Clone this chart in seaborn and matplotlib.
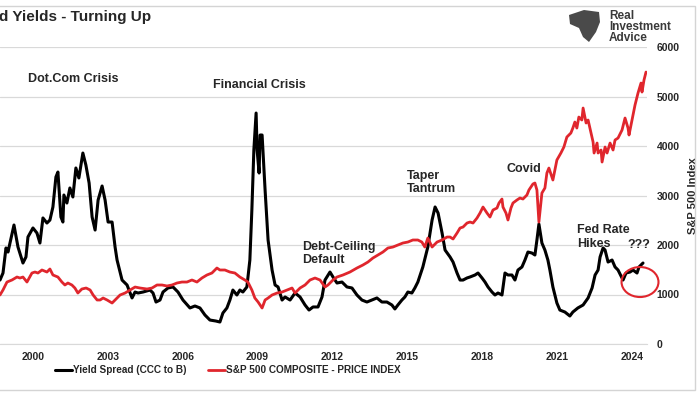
import numpy as np
import pandas as pd
import matplotlib
matplotlib.use('Agg')
import matplotlib.pyplot as plt
import seaborn as sns
from matplotlib.patches import Ellipse, Polygon, Rectangle

sns.set_style('white')
plt.rcParams['font.family'] = ['Liberation Sans', 'DejaVu Sans']

# Yield spread CCC minus B (percentage points)
spread_year = [1998.68, 1998.80, 1998.92, 1999.00, 1999.24, 1999.40, 1999.60, 1999.72, 1999.80, 2000.00,
               2000.16, 2000.28, 2000.40, 2000.56, 2000.68, 2000.80, 2000.92, 2001.00, 2001.12, 2001.20,
               2001.24, 2001.36, 2001.48, 2001.60, 2001.72, 2001.84, 2002.00, 2002.12, 2002.25, 2002.37,
               2002.49, 2002.61, 2002.77, 2002.89, 2003.01, 2003.17, 2003.29, 2003.37, 2003.57, 2003.77,
               2003.97, 2004.09, 2004.21, 2004.41, 2004.69, 2004.81, 2004.93, 2005.09, 2005.21, 2005.41,
               2005.61, 2005.81, 2006.01, 2006.29, 2006.49, 2006.69, 2006.89, 2007.09, 2007.33, 2007.49,
               2007.61, 2007.77, 2007.89, 2008.01, 2008.17, 2008.29, 2008.41, 2008.57, 2008.69, 2008.77,
               2008.85, 2008.94, 2008.98, 2009.06, 2009.10, 2009.18, 2009.30, 2009.42, 2009.58, 2009.70,
               2009.82, 2009.98, 2010.10, 2010.30, 2010.50, 2010.70, 2010.90, 2011.06, 2011.22, 2011.42,
               2011.58, 2011.70, 2011.90, 2012.02, 2012.18, 2012.38, 2012.58, 2012.78, 2012.98, 2013.18,
               2013.38, 2013.58, 2013.78, 2013.98, 2014.18, 2014.38, 2014.50, 2014.62, 2014.78, 2014.90,
               2015.02, 2015.18, 2015.30, 2015.42, 2015.62, 2015.82, 2015.99, 2016.11, 2016.23, 2016.39,
               2016.51, 2016.71, 2016.83, 2016.99, 2017.11, 2017.23, 2017.39, 2017.51, 2017.71, 2017.83,
               2017.99, 2018.11, 2018.23, 2018.39, 2018.51, 2018.63, 2018.79, 2018.91, 2019.03, 2019.19,
               2019.31, 2019.43, 2019.59, 2019.71, 2019.83, 2019.99, 2020.11, 2020.19, 2020.27, 2020.39,
               2020.51, 2020.63, 2020.71, 2020.83, 2020.99, 2021.11, 2021.31, 2021.51, 2021.63, 2021.83,
               2022.04, 2022.24, 2022.40, 2022.52, 2022.64, 2022.72, 2022.84, 2022.92, 2023.04, 2023.20,
               2023.32, 2023.44, 2023.64, 2023.76, 2023.92, 2024.04, 2024.20, 2024.28, 2024.44]
spread = [6.46, 7.17, 9.70, 9.29, 12.02, 9.80, 8.18, 8.79, 10.81, 11.72,
          11.21, 10.20, 12.73, 12.22, 12.52, 13.84, 16.87, 17.37, 12.83, 12.32,
          15.05, 14.24, 15.76, 14.85, 17.78, 16.77, 19.29, 18.08, 16.26, 12.83,
          11.51, 14.54, 15.96, 14.54, 12.32, 12.32, 9.80, 8.48, 6.46, 5.96,
          4.65, 5.25, 5.15, 5.25, 5.45, 5.15, 4.24, 4.44, 5.25, 5.66,
          5.76, 5.25, 4.44, 3.64, 3.84, 3.64, 2.93, 2.42, 2.32, 2.22,
          3.13, 3.64, 4.44, 5.45, 4.95, 5.45, 5.25, 5.76, 8.48, 13.53,
          19.59, 23.33, 19.59, 17.27, 21.11, 21.11, 15.55, 10.50, 7.47, 5.96,
          5.76, 4.44, 4.75, 4.44, 5.15, 4.75, 3.94, 3.43, 3.74, 3.74,
          4.75, 6.46, 7.27, 6.77, 6.16, 6.26, 5.76, 5.66, 4.95, 4.44,
          4.24, 4.44, 4.65, 4.24, 4.24, 3.94, 3.54, 3.94, 4.44, 4.75,
          5.25, 5.15, 5.66, 6.26, 7.78, 9.80, 12.52, 13.84, 13.23, 11.21,
          9.49, 8.79, 8.28, 7.17, 6.46, 6.46, 6.67, 6.77, 6.97, 7.17,
          6.67, 6.26, 5.76, 5.25, 4.95, 5.15, 4.95, 7.17, 6.97, 6.97,
          6.46, 7.47, 7.78, 8.48, 9.29, 9.19, 8.99, 10.50, 12.12, 10.20,
          9.49, 8.48, 7.47, 5.76, 4.14, 3.43, 3.23, 2.83, 3.23, 3.64,
          3.94, 4.65, 5.66, 6.97, 7.47, 8.79, 9.70, 9.49, 8.28, 8.48,
          7.78, 7.47, 6.46, 7.17, 7.27, 7.47, 7.17, 7.78, 8.18]

# S&P 500 composite price index
spx_year = [1998.68, 1998.80, 1998.96, 1999.16, 1999.36, 1999.48, 1999.60, 1999.76, 1999.96, 2000.08,
            2000.20, 2000.36, 2000.56, 2000.68, 2000.80, 2001.00, 2001.16, 2001.28, 2001.40, 2001.56,
            2001.68, 2001.80, 2001.96, 2002.13, 2002.29, 2002.41, 2002.57, 2002.69, 2002.81, 2002.97,
            2003.17, 2003.37, 2003.49, 2003.69, 2003.89, 2004.09, 2004.29, 2004.57, 2004.77, 2004.97,
            2005.17, 2005.37, 2005.57, 2005.77, 2005.97, 2006.17, 2006.37, 2006.57, 2006.77, 2006.97,
            2007.17, 2007.37, 2007.49, 2007.69, 2007.89, 2008.09, 2008.29, 2008.49, 2008.61, 2008.77,
            2008.89, 2009.02, 2009.18, 2009.30, 2009.42, 2009.58, 2009.78, 2009.98, 2010.18, 2010.38,
            2010.50, 2010.70, 2010.90, 2011.10, 2011.30, 2011.50, 2011.70, 2011.82, 2012.02, 2012.18,
            2012.42, 2012.70, 2012.98, 2013.22, 2013.42, 2013.62, 2013.82, 2014.02, 2014.22, 2014.42,
            2014.62, 2014.82, 2015.02, 2015.22, 2015.42, 2015.58, 2015.70, 2015.82, 2015.99, 2016.19,
            2016.39, 2016.59, 2016.71, 2016.83, 2016.99, 2017.11, 2017.23, 2017.39, 2017.51, 2017.63,
            2017.79, 2017.91, 2018.03, 2018.19, 2018.31, 2018.43, 2018.59, 2018.67, 2018.79, 2018.83,
            2018.95, 2019.03, 2019.15, 2019.23, 2019.39, 2019.51, 2019.63, 2019.79, 2019.87, 2020.03,
            2020.11, 2020.19, 2020.27, 2020.39, 2020.51, 2020.59, 2020.67, 2020.83, 2020.99, 2021.15,
            2021.27, 2021.39, 2021.55, 2021.63, 2021.71, 2021.79, 2021.87, 2021.99, 2022.04, 2022.16,
            2022.24, 2022.36, 2022.44, 2022.48, 2022.60, 2022.64, 2022.76, 2022.80, 2022.92, 2023.00,
            2023.12, 2023.24, 2023.32, 2023.44, 2023.60, 2023.72, 2023.84, 2023.88, 2024.00, 2024.12,
            2024.24, 2024.36, 2024.40, 2024.48, 2024.56]
spx = [990, 1091, 1252, 1293, 1353, 1333, 1353, 1252, 1434, 1454,
       1434, 1495, 1454, 1515, 1394, 1353, 1252, 1192, 1232, 1192,
       1131, 1030, 1111, 1131, 1091, 990, 889, 889, 929, 889,
       828, 929, 990, 1030, 1091, 1151, 1131, 1111, 1131, 1192,
       1192, 1172, 1192, 1232, 1252, 1252, 1293, 1252, 1333, 1394,
       1434, 1535, 1495, 1495, 1454, 1434, 1353, 1293, 1252, 1091,
       929, 848, 727, 889, 929, 990, 1030, 1050, 1091, 1131,
       1030, 1131, 1192, 1293, 1333, 1293, 1151, 1192, 1293, 1353,
       1394, 1454, 1535, 1596, 1656, 1737, 1798, 1858, 1939, 1959,
       2000, 2040, 2060, 2101, 2101, 2060, 1959, 2141, 1959, 2060,
       2101, 2161, 2161, 2121, 2242, 2343, 2363, 2444, 2464, 2444,
       2545, 2646, 2767, 2646, 2565, 2707, 2747, 2848, 2929, 2767,
       2646, 2505, 2747, 2848, 2909, 2949, 2929, 3010, 3111, 3232,
       3252, 3111, 2464, 3050, 3151, 3454, 3555, 3313, 3717, 3858,
       3979, 4181, 4262, 4363, 4484, 4363, 4585, 4525, 4767, 4464,
       4525, 4262, 4080, 3858, 4060, 3858, 3919, 3676, 3979, 3858,
       4060, 3919, 4121, 4161, 4323, 4565, 4363, 4222, 4525, 4828,
       5070, 5272, 5090, 5333, 5494]

year_ticks = [2000, 2003, 2006, 2009, 2012, 2015, 2018, 2021, 2024]
spx_ticks = [0, 1000, 2000, 3000, 4000, 5000, 6000]
spread_ticks = [0, 5, 10, 15, 20, 25, 30]

events = ['Dot.Com Crisis', 'Financial Crisis', 'Debt-Ceiling\nDefault', 'Taper\nTantrum',
          'Covid', 'Fed Rate\nHikes', '???']
event_x = [2001.60, 2009.06, 2010.78, 2014.98, 2018.99, 2021.79, 2023.80]
event_y = [5353, 5232, 1828, 3262, 3535, 2161, 2000]
event_ha = ['center', 'center', 'left', 'left', 'left', 'left', 'left']

spread_df = pd.DataFrame({'year': spread_year, 'value': spread})
spx_df = pd.DataFrame({'year': spx_year, 'value': spx})

RED = '#e0262d'
GRID = '#d9d9d9'

fig = plt.figure(figsize=(7.0, 3.94), dpi=100)
ax = fig.add_axes([0.0, 50 / 394, 647 / 700, 297 / 394])
ax2 = ax.twinx()

sns.lineplot(data=spread_df, x='year', y='value', ax=ax, color='black', linewidth=2.2,
             label='Yield Spread (CCC to B)', legend=False)
sns.lineplot(data=spx_df, x='year', y='value', ax=ax2, color=RED, linewidth=2.0,
             label='S&P 500 COMPOSITE - PRICE INDEX', legend=False)

ax.set_xlim(1998.68, 2024.60)
ax.set_ylim(0, 30)
ax2.set_ylim(0, 6000)
ax.set_yticks(spread_ticks)
ax2.set_yticks(spx_ticks)
ax.set_xticks(year_ticks)
ax.set_xticklabels([str(y) for y in year_ticks], fontsize=7.5, fontweight='bold')
ax.yaxis.grid(True, color=GRID, linewidth=0.9)
ax.tick_params(axis='y', left=False, labelleft=False)
ax.tick_params(axis='x', length=3, color='#c8c8c8', pad=3)
ax2.tick_params(axis='y', length=0, pad=7, labelsize=7.5)
for lab in ax2.get_yticklabels():
    lab.set_fontweight('bold')
ax.set_xlabel('')
ax.set_ylabel('')
ax2.set_xlabel('')
ax2.set_ylabel('S&P 500 Index', fontsize=8, fontweight='bold', labelpad=6)
for a in (ax, ax2):
    for s in a.spines.values():
        s.set_visible(False)
ax.spines['bottom'].set_visible(True)
ax.spines['bottom'].set_color(GRID)

for txt, x, y, ha in zip(events, event_x, event_y, event_ha):
    ax2.text(x, y, txt, ha=ha, va='center', fontsize=9, fontweight='bold', linespacing=1.15)

ax2.add_patch(Ellipse((2024.32, 1252), 1.48, 606, fill=False, edgecolor=RED,
                      linewidth=1.5, clip_on=False, zorder=5))

# legend under the plot
h1, l1 = ax.get_legend_handles_labels()
h2, l2 = ax2.get_legend_handles_labels()
fig.legend(h1 + h2, l1 + l2, loc='center', bbox_to_anchor=(228 / 700, 1 - 370 / 394),
           ncol=2, frameon=False, handlelength=1.7, handletextpad=0.1, columnspacing=2.2,
           prop={'weight': 'bold', 'size': 7.2})

# title (cropped at left in the original)
fig.text(-1 / 700, 1 - 17 / 394, 'd Yields - Turning Up', fontsize=11, fontweight='bold',
         ha='left', va='center')

# logo
def px(x, y):
    return (x / 700, 1 - y / 394)

eagle = [px(569, 15), px(584, 10), px(599, 12), px(600, 22), px(596, 32),
         px(589, 42), px(583, 37), px(579, 28), px(570, 24)]
fig.patches.append(Polygon(eagle, closed=True, facecolor='#4a4a4a', edgecolor='none',
                           transform=fig.transFigure, figure=fig))
fig.text(609 / 700, 1 - 27 / 394, 'Real\nInvestment\nAdvice', fontsize=8.5, fontweight='bold',
         color='#3a3a3a', ha='left', va='center', linespacing=0.9)

# outer frame
fig.patches.append(Rectangle((-0.01, 4 / 394), 695 / 700 + 0.01, 384 / 394, fill=False,
                             edgecolor='#d4d4d4', linewidth=1.0,
                             transform=fig.transFigure, figure=fig))

fig.savefig('out.png', dpi=100)
